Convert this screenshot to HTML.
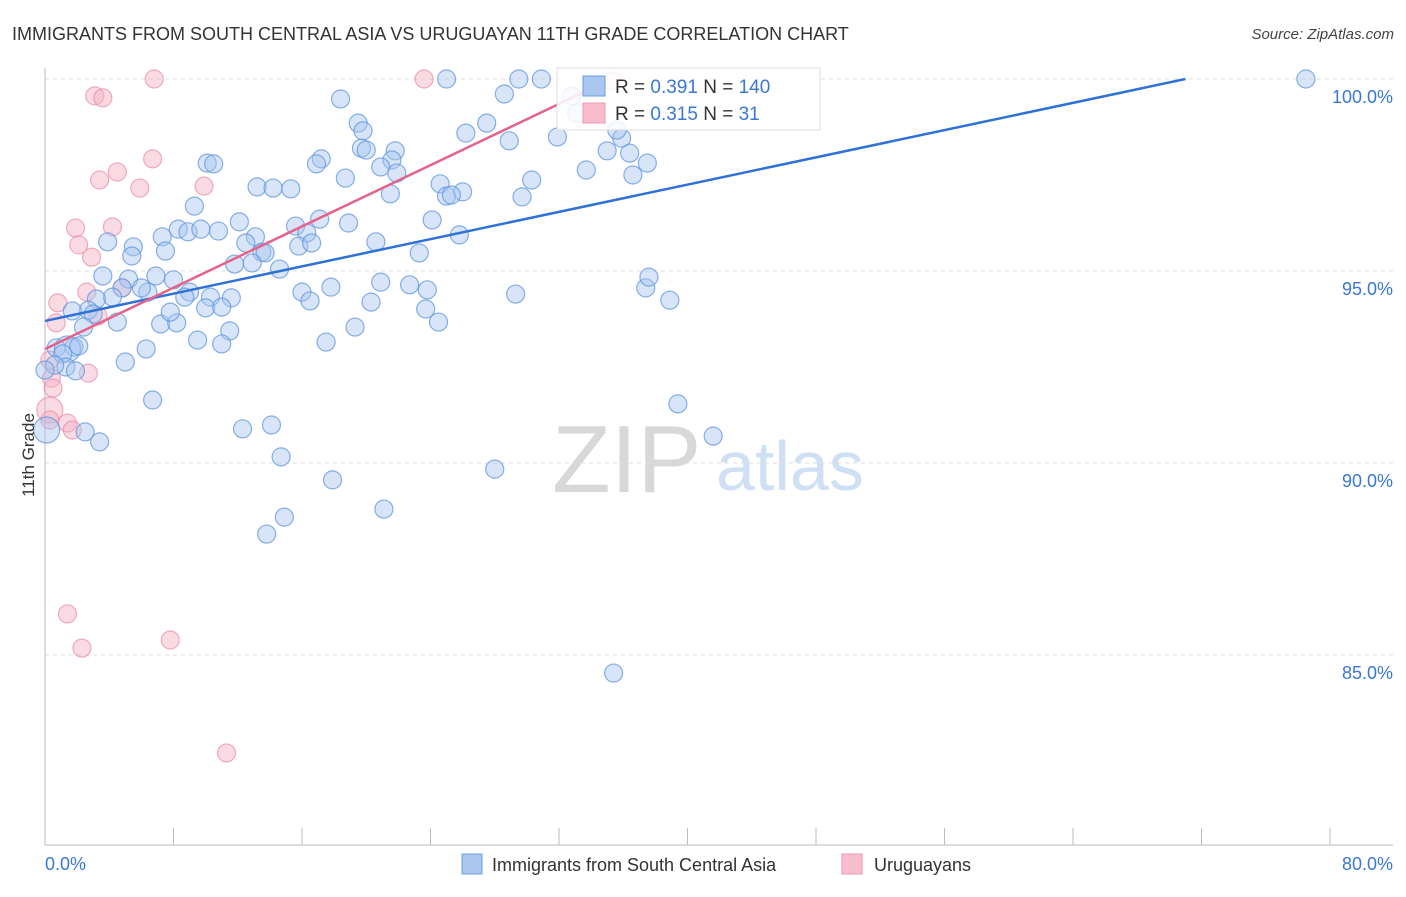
<!DOCTYPE html>
<html><head><meta charset="utf-8"><style>
body{margin:0;background:#fff;font-family:"Liberation Sans",sans-serif;}
svg text{font-family:"Liberation Sans",sans-serif;}
</style></head><body>
<svg id="chart" width="1406" height="892" viewBox="0 0 1406 892" xmlns="http://www.w3.org/2000/svg">
<text x="12" y="40" font-size="18" fill="#333">IMMIGRANTS FROM SOUTH CENTRAL ASIA VS URUGUAYAN 11TH GRADE CORRELATION CHART</text>
<text x="1394" y="39" font-size="15" font-style="italic" fill="#444" text-anchor="end">Source: ZipAtlas.com</text>
<g>
<text x="552" y="492" font-size="96" font-family="Liberation Serif" fill="#d8d8d8">ZIP</text>
<text x="716" y="490" font-size="70" fill="#cfe0f5">atlas</text>
</g>
<g id="grid"></g>
<g id="axes"></g>
<g id="pts-pink"></g>
<g id="pts-blue"></g>
<g id="lines"></g>
<text transform="translate(34,455) rotate(-90)" font-size="17" fill="#333" text-anchor="middle">11th Grade</text>
<g>
<rect x="557" y="68" width="263" height="62" fill="#fff" fill-opacity="0.85" stroke="#ddd"/>
<rect x="583" y="76" width="22" height="20" fill="#a9c6ef" stroke="#6a9ee0"/>
<rect x="583" y="103" width="22" height="20" fill="#f7bccd" stroke="#ec9ab2"/>
<text x="615" y="93" font-size="19" fill="#333">R = <tspan fill="#3a78d4">0.391</tspan>    N = <tspan fill="#3a78d4">140</tspan></text>
<text x="615" y="120" font-size="19" fill="#333">R = <tspan fill="#3a78d4">0.315</tspan>    N =    <tspan fill="#3a78d4">31</tspan></text>
</g>
<g>
<rect x="462" y="854" width="20" height="20" fill="#a9c6ef" stroke="#6a9ee0"/>
<text x="492" y="871" font-size="18" fill="#333">Immigrants from South Central Asia</text>
<rect x="842" y="854" width="20" height="20" fill="#f7bccd" stroke="#ec9ab2"/>
<text x="874" y="871" font-size="18" fill="#333">Uruguayans</text>
</g>
</svg>
<script>
const yTicks=[100,95,90,85];
const yTickLabels=["100.0%","95.0%","90.0%","85.0%"];
const xTickLabels=["0.0%","80.0%"];
const blueX=[78.5,29.5,30.9,25.0,18.4,28.6,27.5,26.2,28.9,31.9,19.5,19.8,19.7,20.0,21.8,21.6,20.9,21.9,18.7,17.2,16.9,13.2,14.2,15.3,10.1,10.5,9.3,12.1,13.1,12.5,13.5,13.7,11.8,12.9,14.6,15.6,16.3,17.1,18.9,20.6,15.8,16.6,21.5,24.6,25.0,26.0,25.3,24.1,25.8,23.3,30.3,29.7,33.7,35.0,36.4,35.9,35.6,37.5,36.6,33.1,20.9,22.7,23.8,20.3,23.7,24.5,17.8,16.0,16.5,19.3,17.5,29.3,37.4,37.6,38.9,8.3,8.9,9.7,10.8,7.3,5.5,3.9,5.4,7.5,3.6,5.2,6.9,8.0,9.0,6.4,6.0,4.8,4.2,3.2,2.7,1.7,3.0,2.4,4.5,7.2,8.2,7.8,8.7,10.3,11.6,10.0,11.0,11.5,9.5,11.0,6.3,5.0,1.8,0.7,1.4,1.1,1.3,2.1,0.6,1.9,0.1,2.5,3.4,6.7,12.3,14.1,14.7,17.9,28.0,39.4,41.6,21.1,14.9,13.8,35.4,32.8,0.0];
const blueY=[100,100,100,100,99.48,99.61,98.85,98.59,98.39,98.49,98.85,98.65,98.20,98.15,98.13,97.89,97.71,97.55,97.42,97.92,97.79,97.19,97.16,97.14,97.81,97.79,96.69,96.28,95.89,95.73,95.49,95.47,95.18,95.21,95.05,96.17,95.99,96.35,96.25,95.76,95.65,95.73,97.01,97.27,96.95,97.06,96.98,96.33,95.94,95.47,97.37,96.93,97.63,98.13,98.07,98.46,98.67,97.81,97.50,99.11,94.71,94.64,94.51,94.19,94.01,93.67,94.58,94.45,94.22,93.54,93.15,94.40,94.56,94.84,94.24,96.09,96.02,96.09,96.04,95.89,95.63,95.76,95.39,95.52,94.87,94.79,94.87,94.77,94.45,94.45,94.56,94.56,94.32,94.27,93.98,93.96,93.88,93.54,93.67,93.62,93.65,93.93,94.32,94.32,94.30,94.04,94.06,93.44,93.20,93.10,92.97,92.63,93.02,93.00,92.97,92.84,92.50,93.05,92.55,92.40,90.86,90.81,90.55,91.64,90.89,90.99,90.16,89.56,89.84,91.54,90.70,88.80,88.59,88.15,84.53,99.56,92.42];
const pinkX=[6.8,23.6,35.3,3.1,3.6,4.5,3.4,5.9,6.7,9.9,1.9,4.2,2.1,2.9,2.6,0.8,0.7,3.3,2.7,0.3,0.4,0.5,0.3,0.3,1.4,1.7,1.4,2.3,7.8,11.3,4.8];
const pinkY=[100,100,99.95,99.56,99.51,97.58,97.37,97.16,97.92,97.21,96.12,96.15,95.68,95.36,94.45,94.17,93.65,93.83,92.34,92.68,92.21,91.95,91.38,91.12,91.04,90.86,86.07,85.18,85.39,82.45,94.56];
const blueLine=[[0,93.70],[71.0,100]];
const pinkLine=[[0,92.97],[34.5,99.85]];
const NS="http://www.w3.org/2000/svg";
const X0=45,X1=1330,XMAX=80;
function sx(v){return X0+(X1-X0)*v/XMAX;}
function sy(v){return 79+(100-v)*38.4;}
function mk(tag,attrs,parent){const e=document.createElementNS(NS,tag);for(const k in attrs)e.setAttribute(k,attrs[k]);parent.appendChild(e);return e;}
const grid=document.getElementById('grid'),axes=document.getElementById('axes');
yTicks.forEach((t,i)=>{
 const l=mk('line',{x1:45,x2:1393,y1:sy(t),y2:sy(t),stroke:'#ddd','stroke-dasharray':'4 4'},grid);
 
 
 const tx=mk('text',{x:1393,y:sy(t)+24,'font-size':18,fill:'#3a78d4','text-anchor':'end'},axes);
 tx.textContent=yTickLabels[i];
 
 
});
const ya=mk('line',{x1:45,x2:45,y1:68,y2:845,stroke:'#bbb'},axes);


const xa=mk('line',{x1:45,x2:1393,y1:845,y2:845,stroke:'#bbb'},axes);


for(let v=0;v<=80;v+=8){
 const t=mk('line',{x1:sx(v),x2:sx(v),y1:828,y2:845,stroke:'#bbb'},axes);
 
 
}
const xl0=mk('text',{x:45,y:870,'font-size':18,fill:'#3a78d4'},axes);xl0.textContent=xTickLabels[0];


const xl1=mk('text',{x:1393,y:870,'font-size':18,fill:'#3a78d4','text-anchor':'end'},axes);xl1.textContent=xTickLabels[1];


const gp=document.getElementById('pts-pink'),gb=document.getElementById('pts-blue');
pinkX.forEach((x,i)=>{
 const c=mk('circle',{cx:sx(x),cy:sy(pinkY[i]),r:(i==22?13:9),fill:'#f4b0c4','fill-opacity':0.45,stroke:'#e98aa8','stroke-opacity':0.7,'stroke-width':1.2},gp);
 
 
});
blueX.forEach((x,i)=>{
 const big=(i==120||i==114||i==140);
 const c=mk('circle',{cx:sx(x),cy:sy(blueY[i]),r:(big?13:9),fill:'#a9c6ef','fill-opacity':0.45,stroke:'#5f96de','stroke-opacity':0.75,'stroke-width':1.2},gb);
 
 
});
const gl=document.getElementById('lines');
const bl=mk('line',{x1:sx(blueLine[0][0]),y1:sy(blueLine[0][1]),x2:sx(blueLine[1][0]),y2:sy(blueLine[1][1]),stroke:'#2f72d6','stroke-width':2.5},gl);


const pl=mk('line',{x1:sx(pinkLine[0][0]),y1:sy(pinkLine[0][1]),x2:sx(pinkLine[1][0]),y2:sy(pinkLine[1][1]),stroke:'#e5628a','stroke-width':2.5},gl);


</script>
</body></html>
